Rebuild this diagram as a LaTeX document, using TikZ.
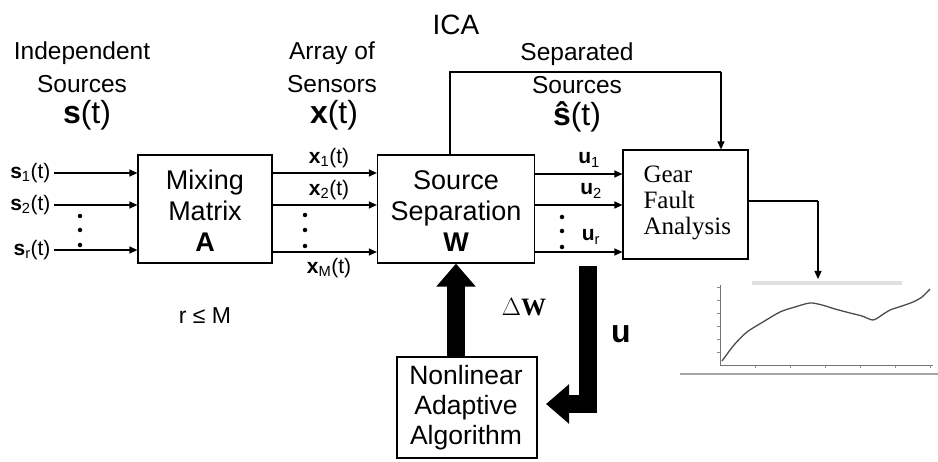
\documentclass[tikz,border=0pt]{standalone}
\usepackage{fontspec}
\setmainfont{Liberation Sans}
\newfontfamily\timesfont{Liberation Serif}
\usetikzlibrary{arrows.meta}

\begin{document}
\begin{tikzpicture}[
    x=1pt, y=-1pt,
    block/.style={draw, line width=1.2pt, minimum width=#1, minimum height=108pt, inner sep=0pt},
    boxtext/.style={align=center, font=\fontsize{27}{31}\selectfont},
    head/.style={inner sep=1pt, font=\fontsize{24.5}{28}\selectfont},
    big/.style={inner sep=1pt, font=\fontsize{32}{34}\selectfont},
    sig/.style={font=\fontsize{21}{24}\selectfont},
    wire/.style={line width=1.2pt, -{Triangle[length=8pt,width=7pt]}},
    line/.style={line width=1.2pt},
    dot/.style={circle, fill=black, inner sep=0pt, minimum size=4.5pt},
    fatarrow/.style={line width=18pt, line join=miter, -{Triangle[length=23pt,width=38pt]}}
]
\useasboundingbox (0,0) rectangle (938,462);

% === Title and headings ===
\node[font=\fontsize{28}{30}\selectfont] (ica) at (456,25) {ICA};
\node[head] (indep) at (82,53) {Independent};
\node[head] (indsrc) at (82,84) {Sources};
\node[big] (st) at (87,115) {\textbf{s}(t)};
\node[head] (array) at (332,53) {Array of};
\node[head] (sensors) at (332,84) {Sensors};
\node[big] (xt) at (334,115) {\textbf{x}(t)};
\node[head] (separ) at (577,54) {Separated};
\node[head] (sepsrc) at (577,85) {Sources};
\node[big] (shat) at (577,117) {\textbf{ŝ}(t)};

% === Blocks ===
\node[block=134pt] (mix) at (205,209) {};
\node[boxtext] (mixt) at (205,211) {Mixing\\Matrix\\\textbf{A}};
\node[block=157pt] (sep) at (456,209) {};
\node[boxtext] (sept) at (456,211) {Source\\Separation\\\textbf{W}};
\node[draw, line width=1.2pt, minimum width=125pt, minimum height=109pt, inner sep=0pt] (gear) at (685.5,204.5) {};
\node[align=left, anchor=west, font=\timesfont\fontsize{25}{26}\selectfont] (geart) at (640,203) {Gear\\Fault\\Analysis};
\node[draw, line width=1.2pt, minimum width=140pt, minimum height=101pt, inner sep=0pt] (nl) at (467,407.5) {};
\node[align=center, font=\fontsize{26.5}{30}\selectfont] (nlt) at (466,408) {Nonlinear\\Adaptive\\Algorithm};

% === Sources into mixing matrix ===
\node[sig, anchor=east] (s1) at (54,173) {\textbf{s}\textsubscript{1}(t)};
\node[sig, anchor=east] (s2) at (54,205) {\textbf{s}\textsubscript{2}(t)};
\node[sig, anchor=east] (sr) at (54,250) {\textbf{s}\textsubscript{r}(t)};
\draw[wire] (s1.east) -- (s1.east -| mix.west);
\draw[wire] (s2.east) -- (s2.east -| mix.west);
\draw[wire] (sr.east) -- (sr.east -| mix.west);
\foreach \yy in {216,230,245} \node[dot] at (80,\yy) {};

% === Sensors into source separation ===
\coordinate (x1) at (272,173);
\coordinate (x2) at (272,205);
\coordinate (xm) at (272,252);
\draw[wire] (x1) -- (x1 -| sep.west);
\draw[wire] (x2) -- (x2 -| sep.west);
\draw[wire] (xm) -- (xm -| sep.west);
\node[sig] (x1l) at (329,158) {\textbf{x}\textsubscript{1}(t)};
\node[sig] (x2l) at (329,190) {\textbf{x}\textsubscript{2}(t)};
\node[sig] (xml) at (329,268) {\textbf{x}\textsubscript{M}(t)};
\foreach \yy in {215,230,246} \node[dot] at (305,\yy) {};

% === Separated outputs into gear analysis ===
\coordinate (u1) at (535,174);
\coordinate (u2) at (535,205);
\coordinate (ur) at (535,252);
\draw[wire] (u1) -- (u1 -| gear.west);
\draw[wire] (u2) -- (u2 -| gear.west);
\draw[wire] (ur) -- (ur -| gear.west);
\node[sig] (u1l) at (589,160) {\textbf{u}\textsubscript{1}};
\node[sig] (u2l) at (591,191) {\textbf{u}\textsubscript{2}};
\node[sig] (url) at (591,237) {\textbf{u}\textsubscript{r}};
\foreach \yy in {217,231,247} \node[dot] at (562,\yy) {};

% === Feedback over the top ===
\coordinate (topl) at (450,72);
\coordinate (topr) at (721,72);
\draw[line] (sep.north -| topl) -- (topl) -- (topr);
\draw[wire] (topr) -- (topr |- gear.north);

\node[font=\fontsize{23}{26}\selectfont] (rm) at (205,316) {r ≤ M};

% === Adaptation loop ===
\draw[fatarrow] (sep.south |- nl.north) -- (sep.south);
\node[font=\timesfont\bfseries\fontsize{25}{28}\selectfont] (dw) at (524,307) {$\Delta$W};
\coordinate (ufb) at (588,266);
\coordinate (utip) at (546,404);
\draw[fatarrow] (ufb) |- (utip);
\node[font=\bfseries\fontsize{32}{34}\selectfont] (ul) at (621,334) {u};

% === Gear analysis result plot ===
\coordinate (gout) at (818,201);
\coordinate (pin) at (818,279);
\draw[line] (gear.east |- gout) -- (gout);
\draw[wire] (gout) -- (pin);
\fill[black!12] (752,281) rectangle (902,285);
\draw[black!35, line width=1.5pt] (680,374) -- (938,374);
\draw[black!55, line width=0.8pt] (720,285) -- (720,365) -- (933,365);
\foreach \tx in {755,790,825,860,895,930} \draw[black!45] (\tx,365) -- (\tx,368);
\foreach \ty in {287,300,313,326,339,352} \draw[black!45] (717,\ty) -- (720,\ty);
\draw[black!70, line width=1.3pt] plot[smooth] coordinates {(722,361) (734,345) (747,332) (763,322) (780,312) (795,307) (810,303) (822,305) (835,309) (850,313) (862,316) (873,320) (882,315) (890,310) (902,306) (913,302) (922,297) (930,289)};
\end{tikzpicture}
\end{document}
